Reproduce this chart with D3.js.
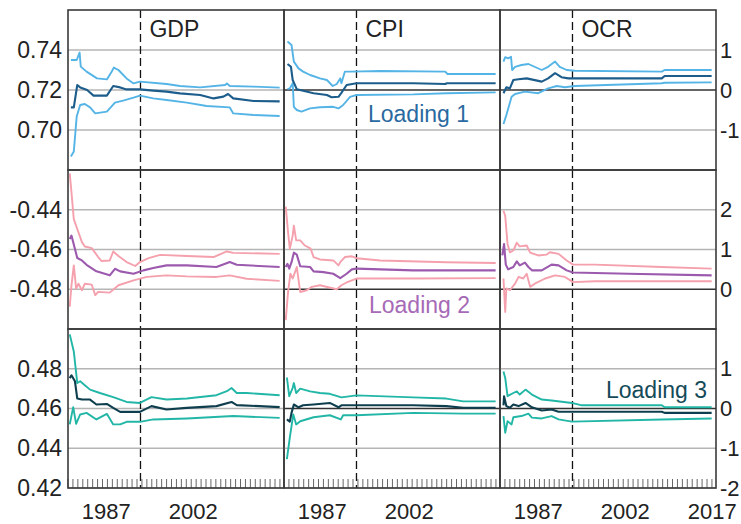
<!DOCTYPE html>
<html><head><meta charset="utf-8">
<script src="https://cdn.jsdelivr.net/npm/d3@7"></script>
<style>body{margin:0;background:#fff}svg{display:block;font-family:Arial,"Liberation Sans",sans-serif}</style>
</head><body><svg id="c" width="741" height="524"></svg>
<script>
// ---------- DATA ----------
const columns = ["GDP", "CPI", "OCR"];
const loadingLabels = ["Loading 1", "Loading 2", "Loading 3"];
const xLabelYears = [[1987, 2002], [1987, 2002], [1987, 2002, 2017]];
const splitYear = 1993;

const leftTicks = [[0.70, 0.72, 0.74], [-0.48, -0.46, -0.44], [0.42, 0.44, 0.46, 0.48]];
const rightTicks = [[-1, 0, 1], [0, 1, 2], [-2, -1, 0, 1]];

// Loading 1
const gdp1Hi = [[1981.0,0.735],[1982.0,0.735],[1982.5,0.7387],[1982.7,0.7317],[1983.7,0.7292],[1985.5,0.7258],[1987.2,0.7253],[1988.0,0.729],[1988.4,0.7312],[1989.2,0.730],[1990.6,0.7258],[1991.8,0.7233],[1992.9,0.7242],[1997.5,0.723],[1999.8,0.722],[2003.3,0.7213],[2007.6,0.7225],[2007.9,0.7233],[2008.4,0.722],[2012.5,0.7217],[2017.0,0.7212]];
const gdp1Mid = [[1981.0,0.7113],[1981.5,0.7113],[1982.1,0.7225],[1982.6,0.7213],[1983.1,0.7208],[1983.8,0.72],[1984.9,0.7172],[1987.2,0.7172],[1988.3,0.722],[1989.5,0.7213],[1990.6,0.7203],[1992.9,0.7203],[1995.2,0.7197],[1997.5,0.7192],[1999.8,0.7183],[2003.3,0.7175],[2005.6,0.7158],[2007.3,0.7167],[2008.1,0.718],[2009.0,0.7158],[2012.5,0.7145],[2017.0,0.7143]];
const gdp1Lo = [[1981.0,0.6867],[1981.5,0.6892],[1982.0,0.7067],[1982.6,0.7125],[1983.4,0.713],[1984.3,0.7113],[1985.2,0.7083],[1987.2,0.7092],[1988.6,0.7137],[1990.0,0.7147],[1991.8,0.7162],[1992.9,0.7172],[1995.2,0.7158],[1997.5,0.715],[2001.0,0.7137],[2004.4,0.712],[2008.4,0.7113],[2009.0,0.7083],[2012.5,0.7075],[2017.0,0.707]];
const cpi1Hi = [[1981.1,1.21],[1981.8,1.125],[1982.2,0.71],[1983.0,0.54],[1983.8,0.46],[1985.0,0.375],[1986.7,0.29],[1987.9,0.25],[1988.9,0.1],[1989.6,0.15],[1990.2,0.29],[1990.4,0.17],[1991.0,0.46],[1991.9,0.46],[1997.1,0.475],[2008.3,0.46],[2008.7,0.4],[2017.0,0.4]];
const cpi1Mid = [[1981.1,0.65],[1981.7,0.58],[1982.0,0.25],[1982.7,0.02],[1983.8,-0.02],[1985.6,-0.08],[1987.9,-0.125],[1988.7,-0.18],[1989.9,-0.17],[1990.4,-0.07],[1991.3,0.125],[1993.0,0.17],[2002.8,0.17],[2008.3,0.15],[2008.6,0.17],[2017.0,0.17]];
const cpi1Lo = [[1981.1,0.02],[1981.5,0.04],[1982.0,0.17],[1982.2,-0.42],[1982.7,-0.5],[1983.5,-0.54],[1985.0,-0.46],[1986.7,-0.43],[1989.0,-0.42],[1989.9,-0.46],[1990.7,-0.375],[1991.9,-0.17],[1993.0,-0.125],[2002.8,-0.11],[2008.5,-0.08],[2017.0,-0.06]];
const ocr1Hi = [[1981.1,0.71],[1981.4,0.82],[1981.9,0.79],[1982.4,0.83],[1982.6,0.5],[1983.1,0.58],[1984.2,0.625],[1985.4,0.65],[1987.7,0.5],[1988.8,0.58],[1990.0,0.71],[1990.8,0.58],[1992.0,0.5],[1993.4,0.48],[2008.4,0.46],[2008.9,0.5],[2017.0,0.5]];
const ocr1Mid = [[1981.1,-0.08],[1981.6,0.07],[1982.2,0.04],[1982.8,0.25],[1983.7,0.27],[1985.1,0.29],[1987.7,0.21],[1988.8,0.29],[1990.0,0.42],[1991.1,0.32],[1992.3,0.29],[1994.0,0.29],[2008.4,0.29],[2008.9,0.35],[2017.0,0.35]];
const ocr1Lo = [[1981.1,-0.85],[1981.6,-0.625],[1982.5,-0.17],[1983.1,-0.1],[1984.8,-0.04],[1987.1,-0.08],[1988.8,0.04],[1990.3,0.1],[1991.7,0.07],[1993.4,0.1],[2008.4,0.17],[2008.9,0.18],[2017.0,0.19]];

// Loading 2
const gdp2Hi = [[1980.8,-0.4217],[1981.1,-0.4313],[1981.5,-0.4447],[1982.1,-0.4497],[1982.9,-0.4563],[1983.4,-0.4585],[1984.6,-0.4593],[1985.7,-0.4638],[1986.3,-0.4658],[1987.7,-0.4655],[1988.3,-0.461],[1989.2,-0.4633],[1990.6,-0.4663],[1992.1,-0.4683],[1992.9,-0.4663],[1994.4,-0.4643],[1996.4,-0.4627],[2001.0,-0.4633],[2005.6,-0.4638],[2007.9,-0.461],[2009.0,-0.4617],[2017.0,-0.4622]];
const gdp2Mid = [[1980.8,-0.4547],[1981.1,-0.453],[1981.7,-0.4597],[1982.1,-0.4643],[1982.9,-0.4655],[1983.7,-0.4677],[1985.4,-0.471],[1987.7,-0.473],[1988.6,-0.4697],[1989.5,-0.471],[1991.8,-0.4722],[1993.5,-0.4705],[1995.2,-0.4693],[1997.5,-0.468],[2001.0,-0.468],[2006.1,-0.4688],[2008.4,-0.4663],[2009.6,-0.4677],[2017.0,-0.4688]];
const gdp2Lo = [[1980.8,-0.4888],[1981.1,-0.478],[1981.5,-0.468],[1981.9,-0.4797],[1982.3,-0.4772],[1982.9,-0.4805],[1983.4,-0.4772],[1984.6,-0.4777],[1985.2,-0.483],[1985.7,-0.4813],[1987.7,-0.4817],[1989.2,-0.478],[1991.8,-0.4755],[1994.1,-0.4738],[1997.5,-0.473],[2001.0,-0.4735],[2006.1,-0.4738],[2008.4,-0.473],[2011.3,-0.4747],[2017.0,-0.4758]];
const cpi2Hi = [[1980.8,2.08],[1981.2,1.43],[1981.5,1.02],[1982.0,1.35],[1982.2,1.6],[1982.6,1.23],[1983.3,1.23],[1984.1,1.1],[1985.1,1.02],[1985.6,0.81],[1986.7,0.75],[1989.0,0.725],[1989.9,0.6],[1990.2,0.68],[1991.0,0.81],[1992.2,0.83],[1993.0,0.78],[1997.1,0.725],[2008.5,0.68],[2017.0,0.66]];
const cpi2Mid = [[1980.8,0.56],[1981.1,0.64],[1981.4,0.52],[1981.8,0.68],[1982.2,0.92],[1982.7,0.87],[1983.3,0.58],[1985.0,0.56],[1985.6,0.45],[1987.3,0.43],[1989.0,0.39],[1990.2,0.28],[1991.3,0.39],[1992.2,0.5],[1993.0,0.52],[2002.8,0.475],[2017.0,0.475]];
const cpi2Lo = [[1980.8,-0.775],[1981.2,-0.07],[1981.6,0.39],[1982.0,0.27],[1982.2,0.35],[1982.7,0.56],[1983.3,-0.07],[1984.4,-0.025],[1985.3,0.06],[1986.7,0.1],[1989.6,0.0],[1990.4,0.1],[1991.3,0.17],[1993.0,0.27],[2002.8,0.27],[2017.0,0.28]];
const ocr2Hi = [[1981.1,1.975],[1981.4,1.85],[1981.8,1.14],[1982.2,0.93],[1982.8,0.975],[1983.4,1.17],[1983.9,1.08],[1985.1,1.1],[1985.7,0.92],[1987.1,0.85],[1988.5,0.87],[1989.1,0.93],[1990.6,0.89],[1992.0,0.725],[1993.1,0.62],[1996.9,0.62],[2008.4,0.56],[2017.0,0.52]];
const ocr2Mid = [[1980.9,0.85],[1981.2,1.14],[1981.5,0.62],[1981.9,0.5],[1982.8,0.56],[1983.4,0.7],[1983.9,0.6],[1984.8,0.67],[1985.4,0.56],[1986.0,0.475],[1987.7,0.475],[1989.4,0.62],[1990.6,0.6],[1992.0,0.475],[1993.1,0.42],[2002.6,0.39],[2017.0,0.35]];
const ocr2Lo = [[1981.1,0.27],[1981.4,-0.57],[1981.6,0.02],[1982.2,-0.025],[1983.1,0.14],[1983.7,0.31],[1984.5,0.27],[1985.1,0.39],[1985.7,0.06],[1986.5,0.14],[1988.3,0.27],[1990.0,0.35],[1991.7,0.31],[1993.1,0.18],[1996.9,0.2],[2017.0,0.2]];

// Loading 3
const gdp3Hi = [[1980.8,0.4973],[1981.5,0.4887],[1982.1,0.4728],[1982.6,0.4737],[1983.4,0.4717],[1984.3,0.4695],[1986.0,0.4678],[1988.3,0.4657],[1990.6,0.4633],[1992.9,0.4628],[1994.9,0.4657],[1997.5,0.4645],[2001.0,0.465],[2006.1,0.4667],[2007.9,0.4687],[2008.7,0.4703],[2009.6,0.4678],[2011.3,0.4678],[2017.0,0.4667]];
const gdp3Mid = [[1980.8,0.4753],[1981.1,0.4767],[1981.7,0.4737],[1982.1,0.465],[1982.9,0.4645],[1984.3,0.4645],[1985.4,0.462],[1987.2,0.4623],[1988.3,0.4603],[1989.5,0.4583],[1992.9,0.4583],[1994.9,0.4612],[1997.5,0.4595],[2001.0,0.4603],[2006.1,0.4612],[2008.7,0.4633],[2009.6,0.4617],[2017.0,0.4607]];
const gdp3Lo = [[1980.8,0.452],[1981.4,0.4607],[1981.9,0.4523],[1982.6,0.457],[1983.7,0.4578],[1985.4,0.4545],[1987.2,0.4573],[1988.3,0.452],[1989.5,0.452],[1990.6,0.4533],[1992.9,0.4533],[1995.2,0.4545],[2001.0,0.455],[2009.0,0.4562],[2017.0,0.4553]];
const cpi3Hi = [[1981.0,0.78],[1981.4,0.31],[1982.0,0.52],[1982.2,0.64],[1982.6,0.39],[1983.3,0.5],[1985.0,0.43],[1986.7,0.39],[1988.4,0.37],[1990.4,0.28],[1993.0,0.33],[2002.8,0.28],[2008.5,0.25],[2011.4,0.18],[2017.0,0.18]];
const cpi3Mid = [[1981.0,-0.275],[1981.5,-0.33],[1981.8,-0.11],[1982.2,0.1],[1983.0,0.03],[1983.8,0.08],[1985.6,0.1],[1988.4,0.14],[1989.9,0.03],[1990.4,0.08],[1993.0,0.08],[2002.8,0.08],[2008.5,0.06],[2011.4,0.02],[2017.0,0.02]];
const cpi3Lo = [[1981.0,-1.275],[1981.5,-0.73],[1982.1,-0.15],[1982.6,-0.4],[1983.3,-0.32],[1985.6,-0.22],[1988.4,-0.17],[1990.3,-0.275],[1990.7,-0.17],[1993.0,-0.17],[2002.8,-0.11],[2011.4,-0.13],[2017.0,-0.13]];
const ocr3Hi = [[1981.1,0.93],[1981.4,0.77],[1981.8,0.31],[1982.8,0.39],[1983.4,0.43],[1983.9,0.35],[1984.9,0.475],[1986.0,0.35],[1987.7,0.225],[1989.4,0.2],[1992.9,0.14],[1994.6,0.08],[2008.4,0.08],[2008.9,0.03],[2017.0,0.03]];
const ocr3Mid = [[1981.1,0.08],[1981.2,0.31],[1981.6,0.06],[1982.2,0.02],[1982.8,0.1],[1983.7,0.06],[1984.9,0.14],[1986.0,0.03],[1987.7,-0.05],[1989.4,-0.025],[1990.6,-0.08],[2008.4,-0.08],[2008.9,-0.11],[2017.0,-0.11]];
const ocr3Lo = [[1981.1,-0.19],[1981.4,-0.61],[1981.8,-0.32],[1982.5,-0.4],[1982.8,-0.22],[1984.2,-0.19],[1985.4,-0.13],[1986.0,-0.23],[1987.7,-0.25],[1989.4,-0.19],[1990.6,-0.275],[1992.9,-0.33],[2008.4,-0.275],[2017.0,-0.25]];

const panelSeries = [
  [[gdp1Lo, gdp1Hi, gdp1Mid], [cpi1Lo, cpi1Hi, cpi1Mid], [ocr1Lo, ocr1Hi, ocr1Mid]],
  [[gdp2Lo, gdp2Hi, gdp2Mid], [cpi2Lo, cpi2Hi, cpi2Mid], [ocr2Lo, ocr2Hi, ocr2Mid]],
  [[gdp3Lo, gdp3Hi, gdp3Mid], [cpi3Lo, cpi3Hi, cpi3Mid], [ocr3Lo, ocr3Hi, ocr3Mid]]
];

// ---------- STYLE / LAYOUT ----------
const bandColors = ["#55b4e6", "#f5a0ad", "#22b6a7"];
const midColors = ["#1c5d8c", "#9c5aae", "#0f3e4e"];
const labelColors = ["#2a6aa0", "#a66ab6", "#154a58"];
const labelPos = [[368, 122], [369, 313], [606, 398]];

const colX = [68, 284, 500], colW = 216;
const rowY = [[10, 170], [170, 329], [329, 488]];
const xDomain = [1980.5, 2017.75];
const leftDomains = [[0.68, 0.76], [-0.50, -0.42], [0.42, 0.50]];
const rightDomains = [[-2, 2], [-1, 3], [-2, 2]];
const FONT = 23;
const SMALL = 22;
const FF = "Arial, 'Liberation Sans', sans-serif";

const svg = d3.select("#c");
const fmtL = v => d3.format(".2f")(v).replace("−", "-");
const fmtR = v => String(v);

for (let r = 0; r < 3; r++) {
  const yL = d3.scaleLinear().domain(leftDomains[r]).range([rowY[r][1], rowY[r][0]]);
  const yR = d3.scaleLinear().domain(rightDomains[r]).range([rowY[r][1], rowY[r][0]]);
  for (let c = 0; c < 3; c++) {
    const x = d3.scaleLinear().domain(xDomain).range([colX[c], colX[c] + colW]);
    const y = c === 0 ? yL : yR;
    const g = svg.append("g");
    const gv = c === 0 ? leftTicks[r] : rightTicks[r];
    g.selectAll("line.grid").data(gv).join("line")
      .attr("x1", colX[c]).attr("x2", colX[c] + colW)
      .attr("y1", d => y(d)).attr("y2", d => y(d))
      .attr("stroke", d => (c > 0 && d === 0) ? "#333" : "#b5b5b5")
      .attr("stroke-width", 1.5);
    g.append("line")
      .attr("x1", x(splitYear)).attr("x2", x(splitYear))
      .attr("y1", rowY[r][0]).attr("y2", rowY[r][1])
      .attr("stroke", "#111").attr("stroke-width", 1.3)
      .attr("stroke-dasharray", "8,4");
    const line = d3.line().x(d => x(d[0])).y(d => y(d[1]));
    const [lo, hi, mid] = panelSeries[r][c];
    [lo, hi].forEach(s => g.append("path").attr("d", line(s)).attr("fill", "none")
      .attr("stroke", bandColors[r]).attr("stroke-width", 1.9).attr("stroke-linejoin", "round"));
    g.append("path").attr("d", line(mid)).attr("fill", "none")
      .attr("stroke", midColors[r]).attr("stroke-width", 2.1).attr("stroke-linejoin", "round");
    if (r === 2) {
      const minor = d3.range(xDomain[0], xDomain[1], 0.85);
      g.selectAll("line.mt").data(minor).join("line")
        .attr("x1", d => x(d)).attr("x2", d => x(d))
        .attr("y1", rowY[r][1]).attr("y2", rowY[r][1] - 9)
        .attr("stroke", "#666").attr("stroke-width", 1);
      const ax = svg.append("g").attr("transform", `translate(0,${rowY[r][1]})`)
        .call(d3.axisBottom(x).tickValues(xLabelYears[c]).tickSize(0).tickPadding(15).tickFormat(d3.format("d")));
      ax.select(".domain").remove();
      ax.selectAll("text").attr("font-size", SMALL).attr("fill", "#222").attr("font-family", FF);
    }
    if (r === 0) {
      svg.append("text").attr("x", x(splitYear) + 9).attr("y", 37)
        .attr("font-size", FONT).attr("fill", "#222").text(columns[c]);
    }
    svg.append("rect").attr("x", colX[c]).attr("y", rowY[r][0])
      .attr("width", colW).attr("height", rowY[r][1] - rowY[r][0])
      .attr("fill", "none").attr("stroke", "#3a3a3a").attr("stroke-width", 1.6);
  }
  const al = svg.append("g").attr("transform", `translate(${colX[0]},0)`)
    .call(d3.axisLeft(yL).tickValues(leftTicks[r]).tickSize(0).tickPadding(6).tickFormat(fmtL));
  al.select(".domain").remove();
  al.selectAll("text").attr("font-size", FONT).attr("fill", "#222").attr("font-family", FF);
  const ar = svg.append("g").attr("transform", `translate(${colX[2] + colW},0)`)
    .call(d3.axisRight(yR).tickValues(rightTicks[r]).tickSize(0).tickPadding(4).tickFormat(fmtR));
  ar.select(".domain").remove();
  ar.selectAll("text").attr("font-size", SMALL).attr("fill", "#222").attr("font-family", FF);
  svg.append("text").attr("x", labelPos[r][0]).attr("y", labelPos[r][1])
    .attr("font-size", FONT).attr("fill", labelColors[r]).text(loadingLabels[r]);
}
</script></body></html>
